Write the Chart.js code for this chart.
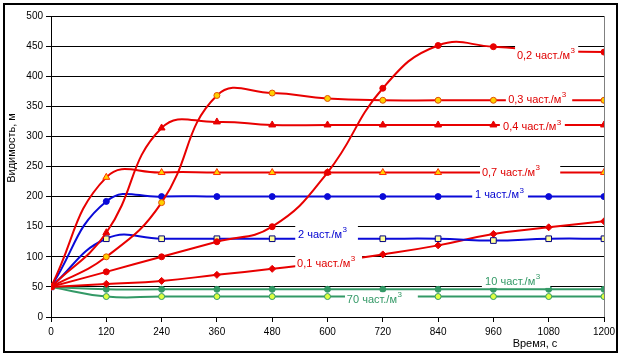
<!DOCTYPE html>
<html><head><meta charset="utf-8">
<script src="https://cdn.jsdelivr.net/npm/chart.js@4/dist/chart.umd.min.js"></script>
<style>html,body{margin:0;padding:0;background:#fff}#wrap{width:622px;height:359px;position:relative}</style>
</head><body><div id="wrap"><canvas id="c" width="622" height="359"></canvas></div>
<script>
// ---- data ----
const times = [0, 120, 240, 360, 480, 600, 720, 840, 960, 1080, 1200];
const s02 = [50, 75, 100, 125, 150, 240, 380, 451, 449, 442, 440];
const s03 = [50, 100, 190, 368, 372, 363, 360, 360, 360, 360, 360];
const s04 = [50, 140, 314, 324, 319, 319, 319, 319, 319, 319, 319];
const s07 = [50, 232, 240, 240, 240, 240, 240, 240, 240, 240, 240];
const s1  = [50, 192, 200, 200, 200, 200, 200, 200, 200, 200, 200];
const s2  = [50, 130, 130, 130, 130, 130, 130, 130, 127, 130, 130];
const s01 = [50, 55, 60, 70, 80, 91, 104, 119, 138, 149, 159];
const s10 = [50, 46, 46, 46, 46, 46, 46, 46, 46, 46, 46];
const s70 = [50, 34, 34, 34, 34, 34, 34, 34, 34, 34, 34];
const seriesNames = ['0,2 част./м', '0,3 част./м', '0,4 част./м', '0,7 част./м', '1 част./м', '2 част./м', '0,1 част./м', '10 част./м', '70 част./м'];
const xTickStep = 120, xMax = 1200;
const yTickStep = 50, yMax = 500;
const xTitle = 'Время, с';
const yTitle = 'Видимость, м';

// ---- label placement (data coordinates) ----
const labelLayout = [
  {at:[1011, 434], box:[1007, 1144, 455, 417], color:'#e00000'},
  {at:[992, 361],  box:[987, 1131, 374, 353],  color:'#e00000'},
  {at:[981, 315],  box:[974, 1115, 332, 305],  color:'#e00000'},
  {at:[935, 240],  box:[931, 1105, 257, 227],  color:'#e00000'},
  {at:[920, 202],  box:[914, 1035, 216, 189],  color:'#0000d0'},
  {at:[536, 136],  box:[530, 666, 158, 119],   color:'#0000d0'},
  {at:[534, 88],   box:[530, 675, 111, 73],    color:'#e00000'},
  {at:[942, 59],   box:[935, 1083, 74, 48.3],  color:'#339966'},
  {at:[642, 28],   box:[638, 796, 41, 15],     color:'#339966'}
];

const RED = '#e80000', BLUE = '#0a0ad8', GREEN = '#339966';
const pts = arr => arr.map((v, i) => ({x: times[i], y: v}));
function ds(data, color, style, radius, bg, border) {
  return {data: pts(data), borderColor: color, borderWidth: 2, tension: 0.45,
    pointStyle: style, pointRadius: radius, pointBackgroundColor: bg,
    pointBorderColor: border, pointBorderWidth: 1, fill: false};
}
const datasets = [
  ds(s02, RED, 'circle', 3, RED, RED),
  ds(s03, RED, 'circle', 3, '#ffd000', '#e05000'),
  ds(s04, RED, 'triangle', 4, RED, RED),
  ds(s07, RED, 'triangle', 4, '#ffd000', '#ff3000'),
  ds(s1, BLUE, 'circle', 3, BLUE, BLUE),
  ds(s2, BLUE, 'rect', 4, '#ffff99', '#000080'),
  ds(s01, RED, 'rectRot', 3.5, RED, RED),
  ds(s10, GREEN, 'circle', 3, GREEN, GREEN),
  ds(s70, GREEN, 'circle', 3, '#e0ff40', GREEN)
];
datasets.forEach((d, i) => d.label = seriesNames[i] + '3');

const FONT = '"Liberation Sans", Arial, sans-serif';

const decor = {
  id: 'decor',
  beforeDatasetsDraw(chart) {
    const {ctx, chartArea: a} = chart;
    ctx.save();
    ctx.strokeStyle = '#808080'; ctx.lineWidth = 1;
    ctx.beginPath(); ctx.moveTo(Math.round(a.right) + 0.5, a.top); ctx.lineTo(Math.round(a.right) + 0.5, a.bottom); ctx.stroke();
    ctx.restore();
  },
  afterDatasetsDraw(chart) {
    const {ctx, scales: {x, y}} = chart;
    ctx.save();
    labelLayout.forEach((l, i) => {
      const x1 = x.getPixelForValue(l.box[0]), x2 = x.getPixelForValue(l.box[1]);
      const y1 = y.getPixelForValue(l.box[2]), y2 = y.getPixelForValue(l.box[3]);
      ctx.fillStyle = '#fff';
      ctx.fillRect(x1, y1, x2 - x1, y2 - y1);
      const tx = x.getPixelForValue(l.at[0]), ty = y.getPixelForValue(l.at[1]);
      ctx.fillStyle = l.color;
      ctx.textBaseline = 'middle'; ctx.textAlign = 'left';
      ctx.font = '11px ' + FONT;
      ctx.fillText(seriesNames[i], tx, ty);
      const w = ctx.measureText(seriesNames[i]).width;
      ctx.font = '8px ' + FONT;
      ctx.fillText('3', tx + w + 0.5, ty - 5);
    });
    ctx.restore();
  },
  afterDraw(chart) {
    const {ctx} = chart;
    ctx.save();
    ctx.fillStyle = '#000';
    ctx.font = '11px ' + FONT;
    ctx.textAlign = 'center'; ctx.textBaseline = 'middle';
    ctx.fillText(xTitle, 535, 344);
    ctx.translate(12, 148); ctx.rotate(-Math.PI / 2);
    ctx.fillText(yTitle, 0, 0);
    ctx.restore();
    ctx.save();
    ctx.strokeStyle = '#000'; ctx.lineWidth = 2;
    ctx.strokeRect(4, 4, 613, 348);
    ctx.restore();
  }
};

new Chart(document.getElementById('c'), {
  type: 'line',
  data: {datasets},
  options: {
    responsive: false, animation: false, devicePixelRatio: 1,
    layout: {padding: {left: 0, top: 16, right: 18, bottom: 0}},
    plugins: {legend: {display: false}, tooltip: {enabled: false}},
    scales: {
      x: {type: 'linear', min: 0, max: xMax,
        afterFit: s => { s.height = 42; },
        ticks: {stepSize: xTickStep, color: '#000', font: {size: 10, family: FONT}, padding: 4, maxRotation: 0,
          callback: v => String(v)},
        grid: {drawOnChartArea: false, drawTicks: true, tickLength: 5, color: '#000'},
        border: {color: '#000', width: 1}},
      y: {min: 0, max: yMax,
        afterFit: s => { s.width = 51; },
        ticks: {stepSize: yTickStep, color: '#000', font: {size: 10, family: FONT}, padding: 3,
          callback: v => String(v)},
        grid: {color: '#000', lineWidth: 1, tickLength: 5},
        border: {color: '#000', width: 1}}
    }
  },
  plugins: [decor]
});
</script></body></html>
